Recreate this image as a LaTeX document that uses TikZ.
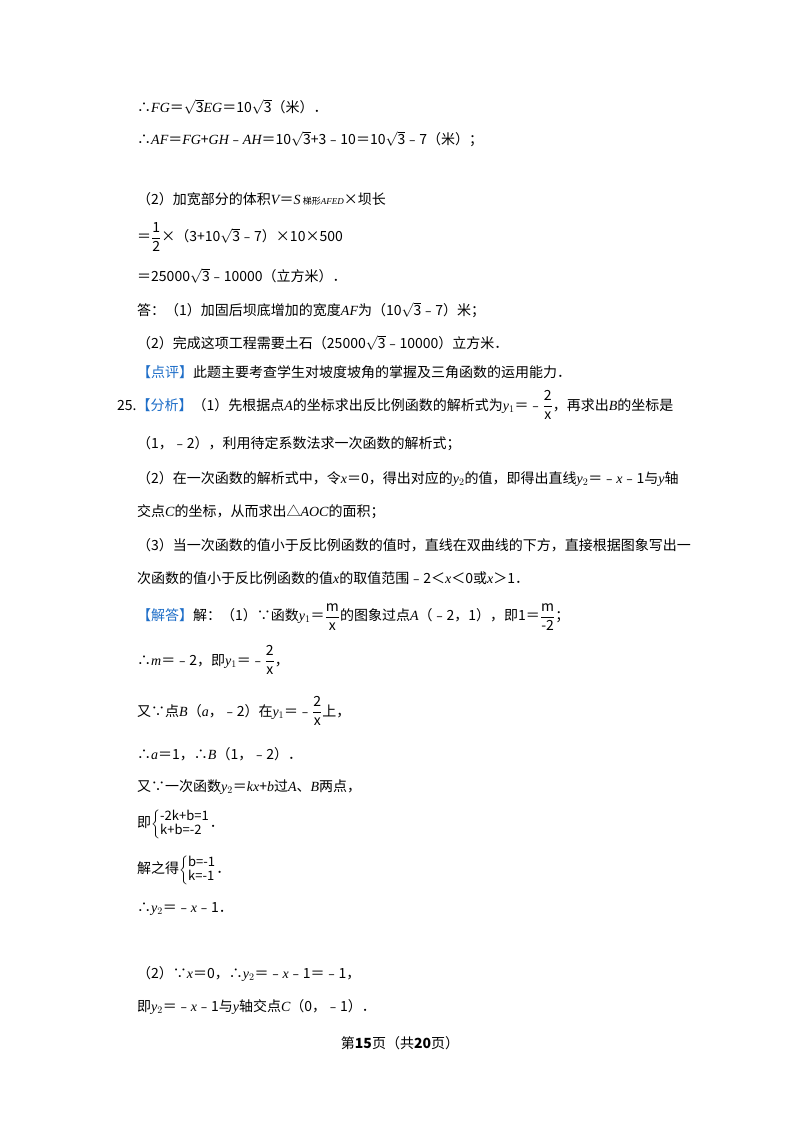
\documentclass[tikz,border=0pt]{standalone}
\usepackage{amsmath}
\usepackage{fontspec}
\setmainfont{Noto Sans CJK SC}
\newfontfamily\lib{Liberation Serif}
\newcommand\vv[1]{{\lib\itshape #1}}
\newcommand\rt[1]{$\sqrt{\hbox{#1}}$}
\newcommand\fr[2]{$\dfrac{\hbox{#1}}{\hbox{#2}}$}
\newcommand\sys[2]{{\fontsize{13}{14}\selectfont\renewcommand\arraystretch{0.85}$\left\{\begin{array}{@{}l@{}}\hbox{#1}\\\hbox{#2}\end{array}\right.$}}
\definecolor{hl}{RGB}{30,110,200}
\begin{document}
\begin{tikzpicture}[x=1pt,y=-1pt,
  ln/.style={anchor=west,inner sep=0pt,font=\fontsize{14}{16}\selectfont}]
\useasboundingbox[fill=white] (0,0) rectangle (800,1132);
\node[ln] (l1) at (137,107) {∴\vv{FG}＝\rt{3}\vv{EG}＝10\rt{3}（米）．};
\node[ln] (l2) at (137,139) {∴\vv{AF}＝\vv{FG}+\vv{GH}﹣\vv{AH}＝10\rt{3}+3﹣10＝10\rt{3}﹣7（米）；};
\node[ln] (l3) at (137,199) {（2）加宽部分的体积\vv{V}＝\vv{S}\,{\fontsize{9}{10}\selectfont 梯形\vv{AFED}}×坝长};
\node[ln] (l4) at (137,237) {＝\fr{1}{2}×（3+10\rt{3}﹣7）×10×500};
\node[ln] (l5) at (137,276) {＝25000\rt{3}﹣10000（立方米）．};
\node[ln] (l6) at (137,310) {答：（1）加固后坝底增加的宽度\vv{AF}为（10\rt{3}﹣7）米；};
\node[ln] (l7) at (137,343) {（2）完成这项工程需要土石（25000\rt{3}﹣10000）立方米．};
\node[ln] (l8) at (137,372) {\textcolor{hl}{【点评】}此题主要考查学生对坡度坡角的掌握及三角函数的运用能力．};
\node[ln] (l9) at (117,405) {25.\textcolor{hl}{【分析】}（1）先根据点\vv{A}的坐标求出反比例函数的解析式为\vv{y}$_1$＝﹣\fr{2}{x}，再求出\vv{B}的坐标是};
\node[ln] (l10) at (137,444) {（1，﹣2），利用待定系数法求一次函数的解析式；};
\node[ln] (l11) at (137,479) {（2）在一次函数的解析式中，令\vv{x}＝0，得出对应的\vv{y}$_2$的值，即得出直线\vv{y}$_2$＝﹣\vv{x}﹣1与\vv{y}轴};
\node[ln] (l12) at (137,512) {交点\vv{C}的坐标，从而求出△\vv{AOC}的面积；};
\node[ln] (l13) at (137,545) {（3）当一次函数的值小于反比例函数的值时，直线在双曲线的下方，直接根据图象写出一};
\node[ln] (l14) at (137,578) {次函数的值小于反比例函数的值\vv{x}的取值范围﹣2＜\vv{x}＜0或\vv{x}＞1．};
\node[ln] (l15) at (137,617) {\textcolor{hl}{【解答】}解：（1）∵函数\vv{y}$_1$＝\fr{m}{x}的图象过点\vv{A}（﹣2，1），即1＝\fr{m}{-2}；};
\node[ln] (l16) at (137,660) {∴\vv{m}＝﹣2，即\vv{y}$_1$＝﹣\fr{2}{x}，};
\node[ln] (l17) at (137,711) {又∵点\vv{B}（\vv{a}，﹣2）在\vv{y}$_1$＝﹣\fr{2}{x}上，};
\node[ln] (l18) at (137,754) {∴\vv{a}＝1，∴\vv{B}（1，﹣2）．};
\node[ln] (l19) at (137,787) {又∵一次函数\vv{y}$_2$＝\vv{kx}+\vv{b}过\vv{A}、\vv{B}两点，};
\node[ln] (l20) at (137,824) {即\sys{-2k+b=1}{k+b=-2}．};
\node[ln] (l21) at (137,870) {解之得\sys{b=-1}{k=-1}．};
\node[ln] (l22) at (137,909) {∴\vv{y}$_2$＝﹣\vv{x}﹣1．};
\node[ln] (l23) at (137,974) {（2）∵\vv{x}＝0，∴\vv{y}$_2$＝﹣\vv{x}﹣1＝﹣1，};
\node[ln] (l24) at (137,1007) {即\vv{y}$_2$＝﹣\vv{x}﹣1与\vv{y}轴交点\vv{C}（0，﹣1）．};
\node[ln,anchor=center] (ft) at (400,1043) {第\textbf{15}页（共\textbf{20}页）};
\end{tikzpicture}
\end{document}
